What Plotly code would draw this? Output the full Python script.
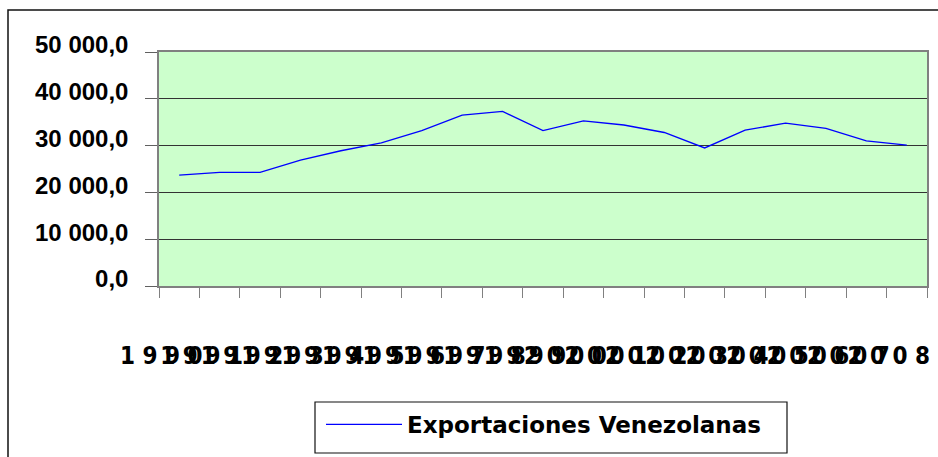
import plotly.graph_objects as go

# Exportaciones venezolanas por año
years = [1990, 1991, 1992, 1993, 1994, 1995, 1996, 1997, 1998, 1999,
         2000, 2001, 2002, 2003, 2004, 2005, 2006, 2007, 2008]
exports = [23700, 24300, 24300, 26900, 28900, 30600, 33200, 36500, 37300, 33200,
           35300, 34400, 32800, 29500, 33300, 34800, 33700, 31000, 30100]

y_ticks = [0, 10000, 20000, 30000, 40000, 50000]
y_tick_labels = ["0,0", "10 000,0", "20 000,0", "30 000,0", "40 000,0", "50 000,0"]

series_name = "Exportaciones Venezolanas"

# year labels drawn with wide letter spacing
x_tick_labels = [" ".join(str(y)) for y in years]

# plot area geometry in pixels (used to place the chart frame and legend box)
W, H = 938, 457
ML, MR, MT, MB = 159, 11, 52, 171
PW, PH = W - ML - MR, H - MT - MB


def px_x(x):
    return (x - ML) / PW


def px_y(y):
    return (H - MB - y) / PH


fig = go.Figure()
fig.add_trace(go.Scatter(
    x=[str(y) for y in years],
    y=exports,
    mode="lines",
    name=series_name,
    line=dict(color="#0000FF", width=1.3),
    showlegend=True,
))

fig.update_layout(
    width=W,
    height=H,
    autosize=False,
    margin=dict(l=ML, r=MR, t=MT, b=MB, autoexpand=False),
    paper_bgcolor="white",
    plot_bgcolor="#CCFFCC",
    showlegend=True,
    legend=dict(
        x=px_x(321), y=px_y(403), xanchor="left", yanchor="top",
        borderwidth=0,
        font=dict(family="DejaVu Sans", size=23, color="black", weight="bold"),
        itemwidth=76,
        bgcolor="rgba(0,0,0,0)",
    ),
    shapes=[
        # outer chart frame
        dict(type="rect", xref="paper", yref="paper",
             x0=px_x(8), x1=px_x(950), y0=px_y(470), y1=px_y(10),
             line=dict(color="#111111", width=1.5), layer="above"),
        # legend frame
        dict(type="rect", xref="paper", yref="paper",
             x0=px_x(315), x1=px_x(787), y0=px_y(453), y1=px_y(402),
             line=dict(color="#111111", width=1.2), layer="above"),
    ],
)

fig.update_xaxes(
    type="category",
    range=[-0.5, len(years) - 0.5],
    tickmode="array",
    tickvals=[str(y) for y in years],
    ticktext=x_tick_labels,
    tickangle=0,
    tickson="boundaries",
    ticks="outside",
    ticklen=10,
    tickcolor="#808080",
    showgrid=False,
    showline=True,
    linecolor="#808080",
    linewidth=1.5,
    mirror=True,
    automargin=False,
    ticklabelstandoff=47,
    ticklabelshift=-18,
    tickfont=dict(family="DejaVu Sans Condensed, DejaVu Sans", size=24,
                  color="black", weight="bold"),
)

fig.update_yaxes(
    range=[0, 50000],
    tickmode="array",
    tickvals=y_ticks,
    ticktext=y_tick_labels,
    ticks="outside",
    ticklen=12,
    tickcolor="#606060",
    showgrid=True,
    gridcolor="#333333",
    gridwidth=1,
    zeroline=False,
    showline=True,
    linecolor="#808080",
    linewidth=1.5,
    mirror=True,
    automargin=False,
    ticklabelstandoff=12,
    ticklabelshift=-7,
    tickfont=dict(family="Liberation Sans", size=24, color="black", weight="bold"),
)

fig.write_html("out.html")
